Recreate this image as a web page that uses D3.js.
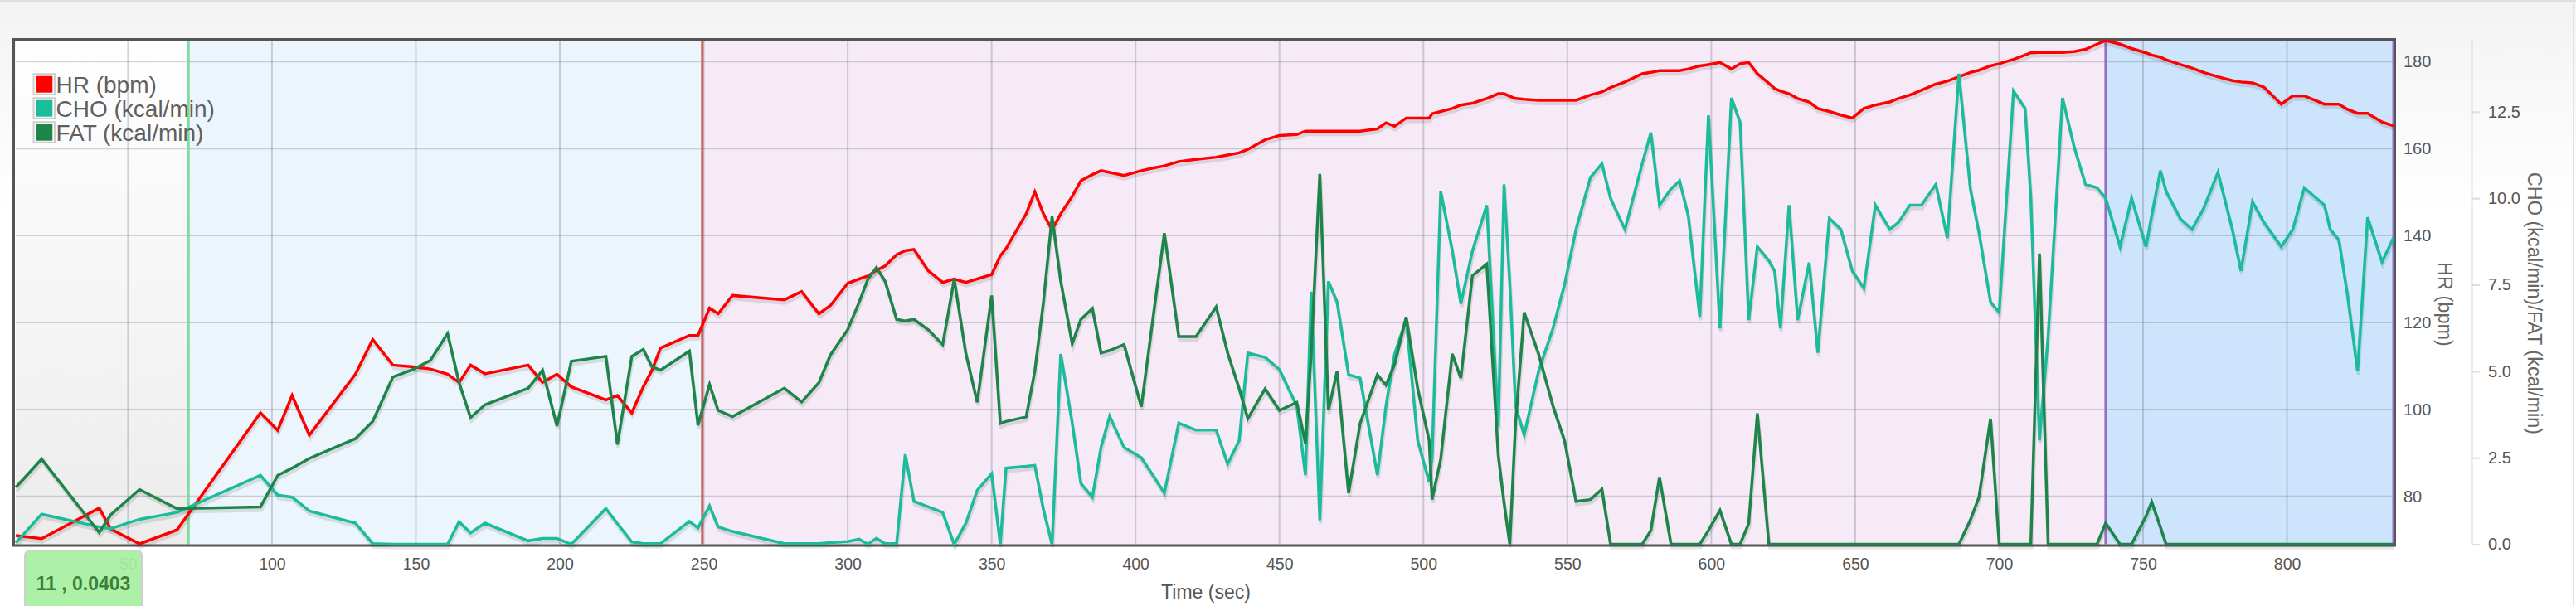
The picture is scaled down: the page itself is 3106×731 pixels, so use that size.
<!DOCTYPE html>
<html><head><meta charset="utf-8">
<script src="https://cdn.jsdelivr.net/npm/d3@7"></script>
<style>
html,body{margin:0;padding:0;background:#fff;}
body{width:3106px;height:731px;overflow:hidden;}
text{font-family:"Liberation Sans",Arial,Helvetica,sans-serif;}
</style>
</head><body>
<svg id="chart" width="3106" height="731"></svg>
<script>
// ---------------- data ----------------
const time = [
11,20,40,44,54,67,96,102,107,113,
129,135,142,149,155,161,165,169,174,189,
194,199,204,216,220,225,229,232,235,245,
248,252,255,260,278,284,290,294,300,304,
307,310,313,317,320,323,328,333,337,341,
345,350,353,355,362,365,368,371,374,378,
381,385,388,391,396,402,406,410,415,421,
428,432,436,439,445,450,456,459,461,464,
467,470,474,478,484,487,490,494,498,502,
503,506,510,513,517,522,526,528,530,532,
535,540,545,549,553,558,562,565,570,576,
579,582,586,589,592,596,599,603,607,610,
613,616,620,622,624,627,630,634,637,641,
645,649,653,657,662,665,669,673,678,682,
686,690,693,697,700,705,709,711,714,717,
722,726,730,734,737,742,746,751,753,756,
758,763,767,771,776,781,784,788,792,798,
802,806,813,815,818,821,824.5,828,833,837];

const hr = [
71,70.3,77.3,72.5,69.1,72.3,99.2,95.2,103.2,94.1,
108.1,116.1,110.2,109.8,109.3,108.1,106.2,110.2,108.2,110.2,
106.2,108.1,105.2,102.2,103.2,99.2,105.2,109,114.1,117,
117,123.3,122,126.2,125.2,127.1,122,123.9,129,130,
130.7,132,133,135.6,136.5,136.8,131.9,129.2,130,129.2,
130,131,135.3,137,145,150,145,141.3,145,149,
152.6,154,154.9,154.5,153.8,154.9,155.5,156,157,157.5,
158,158.5,159,159.8,162,163,163.2,164,164,164,
164,164,164,164,164.5,165.9,165.1,167,167,167,
168,168.5,169.2,170,170.4,171.5,172.6,172.6,172,171.5,
171.3,171.1,171.1,171.1,171.1,172.3,173,174,175.3,177.2,
177.5,177.9,177.9,177.9,178.3,179,179.3,179.8,178.3,179.5,
179.8,177.2,175,173.8,173.2,172.6,171.5,170.7,169.2,168.5,
167.7,167,169.2,170,170.7,171.5,172.3,173.4,174.8,175.5,
176.5,177.5,178,179,179.5,180.5,181.5,182,182.1,182.1,
182.1,182.3,182.8,184,184.8,184,183,182,181.5,181,
180.4,179.3,178.5,177.5,176.5,175.6,175.3,175.1,174.1,170.2,
172.1,172.1,170.2,170.2,170.2,169,168.1,168.1,166.1,165.2];

const cho = [
0.0403,0.87,0.5,0.45,0.72,0.92,1.99,1.42,1.36,0.96,
0.61,0.02,0,0,0,0,0.65,0.33,0.61,0.1,
0.17,0.17,0,1.03,0.6,0.07,0.02,0.02,0.02,0.66,
0.47,1.11,0.5,0.37,0.02,0.02,0.02,0.05,0.08,0.15,
0,0.17,0.02,0.02,2.6,1.24,1.08,0.92,0,0.6,
1.56,2.04,0,2.2,2.25,2.28,1.0,0,5.5,3.5,
1.76,1.36,2.8,3.7,2.8,2.5,2.0,1.48,3.5,3.3,
3.3,2.32,3.0,5.53,5.4,5.05,4.0,2.0,7.3,0.69,
7.6,7.0,4.9,4.8,2.0,4.0,5.5,6.5,3.0,1.8,
2.5,10.2,8.5,6.95,8.47,9.8,3.4,10.4,7.5,4.0,
3.16,5.0,6.24,7.5,9.1,10.6,11.0,10.0,9.1,11.0,
11.9,9.8,10.27,10.5,9.5,6.57,12.4,6.24,12.9,12.2,
6.48,8.6,8.2,7.9,6.24,9.8,6.48,8.14,5.53,9.42,
9.1,7.9,7.4,9.8,9.1,9.3,9.8,9.8,10.4,8.85,
13.6,10.27,9.0,7.0,6.7,13.1,12.6,10.0,3.0,6.0,
12.9,11.5,10.4,10.3,10.0,8.6,10.0,8.6,9.5,10.8,
10.2,9.4,9.1,9.7,10.75,9.1,7.9,9.9,9.3,8.6,
9.1,10.3,9.8,9.1,8.8,7.2,5.0,9.45,8.16,8.86];

const fat = [
1.64,2.46,0.34,0.85,1.58,1.03,1.08,1.99,2.2,2.48,
3.05,3.55,4.83,5.05,5.31,6.09,4.67,3.66,4.03,4.51,
5.03,3.42,5.29,5.43,2.88,5.43,5.63,5.13,5.03,5.58,
3.44,4.62,3.87,3.69,4.51,4.11,4.67,5.47,6.2,7.0,
7.66,8.0,7.6,6.5,6.45,6.5,6.2,5.77,7.66,5.53,
4.1,7.19,3.49,3.55,3.68,5.0,7.0,9.47,7.6,5.8,
6.5,6.81,5.53,5.6,5.77,3.97,6.5,8.99,6.0,6.0,
6.86,5.53,4.5,3.63,4.49,3.87,4.1,2.92,5.5,10.7,
3.87,5.0,1.48,3.49,4.9,4.6,5.2,6.57,4.5,3.0,
1.29,2.46,5.5,4.8,7.76,8.1,2.56,1.2,0,3.5,
6.7,5.5,4.0,3.0,1.24,1.29,1.59,0,0,0,
0.4,1.94,0,0,0,0,0.4,0.98,0,0,
0.6,3.78,0,0,0,0,0,0,0,0,
0,0,0,0,0,0,0,0,0,0,
0,0.7,1.36,3.63,0,0,0,0,8.4,0,
0,0,0,0,0.61,0,0,0.81,1.22,0.5,
0,0,0,0,0,0,0,0,0,0,
0,0,0,0,0,0,0,0,0,0];

const seriesNames = ["HR (bpm)", "CHO (kcal/min)", "FAT (kcal/min)"];
const xTicks = [50,100,150,200,250,300,350,400,450,500,550,600,650,700,750,800];
const hrTicks = [80,100,120,140,160,180];
const kcalTicks = [0,2.5,5,7.5,10,12.5];
const phaseBounds = [11, 71, 249.5, 737, 837];
const xDomain = [11, 837];
const hrDomain = [69, 185];
const kcalDomain = [0, 14.58];
const tooltipIndex = 0;

// ---------------- layout / style ----------------
const W = 3106, H = 731;
const L = 19, R = 2886, T = 48, B = 656.5;
const colors = {hr:"#ff0000", cho:"#1abc9c", fat:"#1e8449"};
const phaseFills = ["url(#gGrey)", "#ecf4fc", "#f5eaf6", "#cce5fc"];
const phaseLines = ["#7ddc9f", "#cd625c", "#9b6cc6", "#9b6cc6"];

const svg = d3.select("#chart");
const defs = svg.append("defs");
const pg = defs.append("linearGradient").attr("id","gPage").attr("x1",0).attr("y1",0).attr("x2",0).attr("y2",1);
pg.append("stop").attr("offset","0%").attr("stop-color","#f3f3f3");
pg.append("stop").attr("offset","35%").attr("stop-color","#ffffff");
pg.append("stop").attr("offset","100%").attr("stop-color","#ffffff");
const gg = defs.append("linearGradient").attr("id","gGrey").attr("x1",0).attr("y1",0).attr("x2",0).attr("y2",1);
gg.append("stop").attr("offset","0%").attr("stop-color","#ffffff");
gg.append("stop").attr("offset","100%").attr("stop-color","#ececec");

svg.append("rect").attr("width",W).attr("height",H).attr("fill","url(#gPage)");
svg.append("rect").attr("x",0).attr("y",0).attr("width",W).attr("height",2).attr("fill","#dedede");
svg.append("rect").attr("x",3102).attr("y",0).attr("width",2).attr("height",H).attr("fill","#e2e2e2");

const x = d3.scaleLinear().domain(xDomain).range([L, R]);
const yHR = d3.scaleLinear().domain(hrDomain).range([B, T]);
const yK = d3.scaleLinear().domain(kcalDomain).range([B, T]);

// phase backgrounds
const phases = d3.pairs(phaseBounds);
svg.append("g").selectAll("rect").data(phases).join("rect")
  .attr("x", d => x(d[0])).attr("y", T)
  .attr("width", d => x(d[1]) - x(d[0])).attr("height", B - T)
  .attr("fill", (d,i) => phaseFills[i]);

// grid
const grid = svg.append("g").attr("stroke","rgba(95,105,120,0.28)").attr("stroke-width",2);
grid.selectAll("line.v").data(xTicks).join("line").attr("class","v")
  .attr("x1", d => x(d)).attr("x2", d => x(d)).attr("y1", T).attr("y2", B);
grid.selectAll("line.h").data(hrTicks).join("line").attr("class","h")
  .attr("x1", L).attr("x2", R).attr("y1", d => yHR(d)).attr("y2", d => yHR(d));

// phase boundary lines
svg.append("g").selectAll("line").data(phaseBounds.slice(1)).join("line")
  .attr("x1", d => x(d)).attr("x2", d => x(d)).attr("y1", T).attr("y2", B)
  .attr("stroke", (d,i) => phaseLines[i]).attr("stroke-width", 3);

// border
svg.append("rect").attr("x",16.5).attr("y",47.5).attr("width",2871).attr("height",610.5)
  .attr("fill","none").attr("stroke","#555").attr("stroke-width",3);

// lines
const idx = d3.range(time.length);
const lineHR = d3.line().x(i => x(time[i])).y(i => yHR(hr[i]));
const lineCHO = d3.line().x(i => x(time[i])).y(i => yK(cho[i]));
const lineFAT = d3.line().x(i => x(time[i])).y(i => yK(fat[i]));
const series = [[lineHR, colors.hr],[lineCHO, colors.cho],[lineFAT, colors.fat]];
const sh = svg.append("g").attr("transform","translate(1,4)");
series.forEach(([ln]) => sh.append("path").attr("d", ln(idx)).attr("fill","none")
  .attr("stroke","rgba(0,0,0,0.10)").attr("stroke-width",4));
series.forEach(([ln,c]) => svg.append("path").attr("d", ln(idx)).attr("fill","none")
  .attr("stroke",c).attr("stroke-width",3.5));

// axes
const axX = svg.append("g").attr("transform",`translate(0,${B+1.5})`)
  .call(d3.axisBottom(x).tickValues(xTicks).tickSize(0).tickPadding(15).tickFormat(d3.format("d")));
axX.select(".domain").remove();
axX.selectAll("text").attr("font-size",19.5).attr("fill","#555")
  .style("font-family",'"Liberation Sans",Arial,sans-serif');

const axHR = svg.append("g").attr("transform",`translate(2888,0)`)
  .call(d3.axisRight(yHR).tickValues(hrTicks).tickSize(0).tickPadding(10));
axHR.select(".domain").remove();
axHR.selectAll("text").attr("font-size",20).attr("fill","#555")
  .style("font-family",'"Liberation Sans",Arial,sans-serif');

const axK = svg.append("g").attr("transform",`translate(2980,0)`)
  .call(d3.axisRight(yK).tickValues(kcalTicks).tickSize(10).tickSizeOuter(0).tickPadding(10).tickFormat(d3.format(".1f")));
axK.select(".domain").attr("stroke","#dcdcdc").attr("stroke-width",2);
axK.selectAll(".tick line").attr("stroke","#dcdcdc").attr("stroke-width",2);
axK.selectAll("text").attr("font-size",20).attr("fill","#555")
  .style("font-family",'"Liberation Sans",Arial,sans-serif');

// titles
svg.append("text").attr("x",1454).attr("y",722).attr("text-anchor","middle")
  .attr("font-size",23).attr("fill","#555").text("Time (sec)");
svg.append("text").attr("transform","translate(2948,367) rotate(90)").attr("text-anchor","middle")
  .attr("dominant-baseline","central").attr("font-size",23.5).attr("fill","#666").text("HR (bpm)");
svg.append("text").attr("transform","translate(3056,366) rotate(90)").attr("text-anchor","middle")
  .attr("dominant-baseline","central").attr("font-size",23.5).attr("fill","#666")
  .text("CHO (kcal/min)/FAT (kcal/min)");

// legend
const lg = svg.append("g");
const lcol = [colors.hr, colors.cho, colors.fat];
seriesNames.forEach((n,i) => {
  const yy = 91.7 + i*29;
  lg.append("rect").attr("x",40.5).attr("y",yy-2.5).attr("width",25.5).attr("height",24.5)
    .attr("fill","#fff").attr("stroke","#cfcfcf").attr("stroke-width",2);
  lg.append("rect").attr("x",43.3).attr("y",yy).attr("width",20).attr("height",20).attr("fill",lcol[i]);
  lg.append("text").attr("x",67.5).attr("y",yy+20).attr("font-size",28).attr("fill","#5f5f5f").text(n);
});

// tooltip
const tt = svg.append("g");
tt.append("rect").attr("x",30).attr("y",664).attr("width",141).attr("height",72).attr("rx",6)
  .attr("fill","#a7f0a1").attr("fill-opacity",0.93).attr("stroke","#cfcfcf").attr("stroke-width",2);
tt.append("text").attr("x",100.5).attr("y",712).attr("text-anchor","middle")
  .attr("font-size",23).attr("font-weight","bold").attr("fill","#3f7f3c")
  .text(`${time[tooltipIndex]} , ${cho[tooltipIndex]}`);
</script>
</body></html>
